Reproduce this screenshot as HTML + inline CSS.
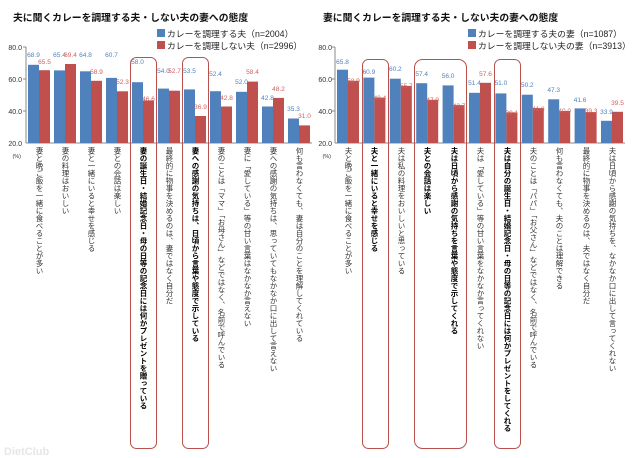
<!DOCTYPE html>
<html><head><meta charset="utf-8"><style>
body{margin:0;width:640px;height:458px;background:#fff;position:relative;overflow:hidden;font-family:"Liberation Sans","Noto Sans CJK JP",sans-serif}
svg{position:absolute;left:0;top:0}
.l{position:absolute;top:147px;width:10px;writing-mode:vertical-rl;font-size:7.5px;line-height:10px;color:#333;white-space:nowrap;font-family:"Liberation Sans","Noto Sans CJK JP",sans-serif}
.b{font-weight:bold;color:#000}
</style></head><body>
<svg width="640" height="458" font-family="Liberation Sans, Noto Sans CJK JP, sans-serif">
<text x="13" y="21" font-size="9.8" font-weight="bold" fill="#111">夫に聞くカレーを調理する夫・しない夫の妻への態度</text>
<text x="323" y="21" font-size="9.8" font-weight="bold" fill="#111">妻に聞くカレーを調理する夫・しない夫の妻への態度</text>
<rect x="157" y="29" width="8" height="8" fill="#4f81bd"/><text x="167" y="37" font-size="8.8" fill="#222">カレーを調理する夫（n=2004）</text>
<rect x="157" y="41" width="8" height="8" fill="#c0504d"/><text x="167" y="49" font-size="8.8" fill="#222">カレーを調理しない夫（n=2996）</text>
<rect x="468" y="29" width="8" height="8" fill="#4f81bd"/><text x="478" y="37" font-size="8.8" fill="#222">カレーを調理する夫の妻（n=1087）</text>
<rect x="468" y="41" width="8" height="8" fill="#c0504d"/><text x="478" y="49" font-size="8.8" fill="#222">カレーを調理しない夫の妻（n=3913）</text>
<g font-size="7" fill="#333" text-anchor="end">
<text x="22" y="50">80.0</text><text x="22" y="82">60.0</text><text x="22" y="114">40.0</text><text x="22" y="146">20.0</text>
<text x="332" y="50">80.0</text><text x="332" y="82">60.0</text><text x="332" y="114">40.0</text><text x="332" y="146">20.0</text>
<text x="21" y="158" font-size="5.5">(%)</text><text x="331" y="158" font-size="5.5">(%)</text>
</g>
<g stroke="#888" stroke-width="1">
<line x1="26" y1="47" x2="26" y2="143"/><line x1="26" y1="143" x2="312" y2="143"/>
<line x1="23" y1="47" x2="26" y2="47"/><line x1="23" y1="79" x2="26" y2="79"/><line x1="23" y1="111" x2="26" y2="111"/>
<line x1="335" y1="47" x2="335" y2="143"/><line x1="335" y1="143" x2="625" y2="143"/>
<line x1="332" y1="47" x2="335" y2="47"/><line x1="332" y1="79" x2="335" y2="79"/><line x1="332" y1="111" x2="335" y2="111"/>
</g>
<g fill="#4f81bd">
<rect x="28" y="64.8" width="11" height="78.2"/><rect x="54" y="70.4" width="11" height="72.6"/><rect x="80" y="71.3" width="11" height="71.7"/><rect x="106" y="77.9" width="11" height="65.1"/><rect x="132" y="82.2" width="11" height="60.8"/><rect x="158" y="88.6" width="11" height="54.4"/><rect x="184" y="89.4" width="11" height="53.6"/><rect x="210" y="91.2" width="11" height="51.8"/><rect x="236" y="91.8" width="11" height="51.2"/><rect x="262" y="106.5" width="11" height="36.5"/><rect x="288" y="118.5" width="11" height="24.5"/>
<rect x="337" y="69.7" width="11" height="73.3"/><rect x="363.4" y="77.6" width="11" height="65.4"/><rect x="389.8" y="78.7" width="11" height="64.3"/><rect x="416.2" y="83.2" width="11" height="59.8"/><rect x="442.6" y="85.4" width="11" height="57.6"/><rect x="469" y="92.8" width="11" height="50.2"/><rect x="495.4" y="93.4" width="11" height="49.6"/><rect x="521.8" y="94.7" width="11" height="48.3"/><rect x="548.2" y="99.3" width="11" height="43.7"/><rect x="574.6" y="108.4" width="11" height="34.6"/><rect x="601" y="120.8" width="11" height="22.2"/>
</g>
<g fill="#c0504d">
<rect x="39" y="70.2" width="11" height="72.8"/><rect x="65" y="64" width="11" height="79"/><rect x="91" y="80.8" width="11" height="62.2"/><rect x="117" y="91.3" width="11" height="51.7"/><rect x="143" y="100.4" width="11" height="42.6"/><rect x="169" y="90.7" width="11" height="52.3"/><rect x="195" y="116" width="11" height="27"/><rect x="221" y="106.5" width="11" height="36.5"/><rect x="247" y="81.6" width="11" height="61.4"/><rect x="273" y="97.9" width="11" height="45.1"/><rect x="299" y="125.4" width="11" height="17.6"/>
<rect x="348" y="80.8" width="11" height="62.2"/><rect x="374.4" y="97.6" width="11" height="45.4"/><rect x="400.8" y="85.9" width="11" height="57.1"/><rect x="427.2" y="99.8" width="11" height="43.2"/><rect x="453.6" y="105.1" width="11" height="37.9"/><rect x="480" y="82.8" width="11" height="60.2"/><rect x="506.4" y="112.4" width="11" height="30.6"/><rect x="532.8" y="108.1" width="11" height="34.9"/><rect x="559.2" y="111" width="11" height="32"/><rect x="585.6" y="112.1" width="11" height="30.9"/><rect x="612" y="111.8" width="11" height="31.2"/>
</g>
<g font-size="6.5" fill="#4f81bd" text-anchor="middle">
<text x="33.5" y="57">68.9</text><text x="59.5" y="57">65.4</text><text x="85.5" y="57">64.8</text><text x="111.5" y="57">60.7</text><text x="137.5" y="64">58.0</text><text x="163.5" y="73">54.0</text><text x="189.5" y="73">53.5</text><text x="215.5" y="76">52.4</text><text x="241.5" y="84">52.0</text><text x="267.5" y="100">42.8</text><text x="293.5" y="111">35.3</text>
<text x="342.5" y="64">65.8</text><text x="368.9" y="74">60.9</text><text x="395.3" y="71">60.2</text><text x="421.7" y="76">57.4</text><text x="448.1" y="78">56.0</text><text x="474.5" y="85">51.4</text><text x="500.9" y="85">51.0</text><text x="527.3" y="87">50.2</text><text x="553.7" y="92">47.3</text><text x="580.1" y="102">41.6</text><text x="606.5" y="114">33.9</text>
</g>
<g font-size="6.5" fill="#d0605d" text-anchor="middle">
<text x="44.5" y="64">65.5</text><text x="70.5" y="57">69.4</text><text x="96.5" y="74">58.9</text><text x="122.5" y="84">52.3</text><text x="148.5" y="101">46.6</text><text x="174.5" y="73">52.7</text><text x="200.5" y="109">36.9</text><text x="226.5" y="100">42.8</text><text x="252.5" y="74">58.4</text><text x="278.5" y="91">48.2</text><text x="304.5" y="118">31.0</text>
<text x="353.5" y="83">58.9</text><text x="379.9" y="100">48.4</text><text x="406.3" y="88">55.7</text><text x="432.7" y="102">47.0</text><text x="459.1" y="108">43.7</text><text x="485.5" y="76">57.6</text><text x="511.9" y="115">39.1</text><text x="538.3" y="111">41.8</text><text x="564.7" y="113">40.0</text><text x="591.1" y="113">39.3</text><text x="617.5" y="105">39.5</text>
</g>
<g fill="none" stroke="#b8504c" stroke-width="1">
<rect x="130.5" y="57.5" width="26" height="391" rx="6"/><rect x="182.5" y="57.5" width="26" height="391" rx="6"/>
<rect x="362.5" y="59.5" width="26" height="389" rx="6"/><rect x="414.5" y="59.5" width="52" height="389" rx="8"/><rect x="494.5" y="59.5" width="26" height="389" rx="6"/>
</g>
<text x="4" y="455" font-size="11" fill="#e6e6e6" font-weight="bold">DietClub</text>
</svg>
<div class="l" style="left:34px">妻と晩ご飯を一緒に食べることが多い</div>
<div class="l" style="left:60px">妻の料理はおいしい</div>
<div class="l" style="left:86px">妻と一緒にいると幸せを感じる</div>
<div class="l" style="left:112px">妻との会話は楽しい</div>
<div class="l b" style="left:138px">妻の誕生日・結婚記念日・母の日等の記念日には何かプレゼントを贈っている</div>
<div class="l" style="left:164px">最終的に物事を決めるのは、妻ではなく自分だ</div>
<div class="l b" style="left:190px">妻への感謝の気持ちは、日頃から言葉や態度で示している</div>
<div class="l" style="left:216px">妻のことは「ママ」「お母さん」などではなく、名前で呼んでいる</div>
<div class="l" style="left:242px">妻に「愛している」等の甘い言葉はなかなか言えない</div>
<div class="l" style="left:268px">妻への感謝の気持ちは、思っていてもなかなか口に出して言えない</div>
<div class="l" style="left:294px">何も言わなくても、妻は自分のことを理解してくれている</div>
<div class="l" style="left:343px">夫と晩ご飯を一緒に食べることが多い</div>
<div class="l b" style="left:369px">夫と一緒にいると幸せを感じる</div>
<div class="l" style="left:396px">夫は私の料理をおいしいと思っている</div>
<div class="l b" style="left:422px">夫との会話は楽しい</div>
<div class="l b" style="left:449px">夫は日頃から感謝の気持ちを言葉や態度で示してくれる</div>
<div class="l" style="left:475px">夫は「愛している」等の甘い言葉をなかなか言ってくれない</div>
<div class="l b" style="left:502px">夫は自分の誕生日・結婚記念日・母の日等の記念日には何かプレゼントをしてくれる</div>
<div class="l" style="left:528px">夫のことは「パパ」「お父さん」などではなく、名前で呼んでいる</div>
<div class="l" style="left:554px">何も言わなくても、夫のことは理解できる</div>
<div class="l" style="left:581px">最終的に物事を決めるのは、夫ではなく自分だ</div>
<div class="l" style="left:607px">夫は日頃から感謝の気持ちを、なかなか口に出して言ってくれない</div>
</body></html>
